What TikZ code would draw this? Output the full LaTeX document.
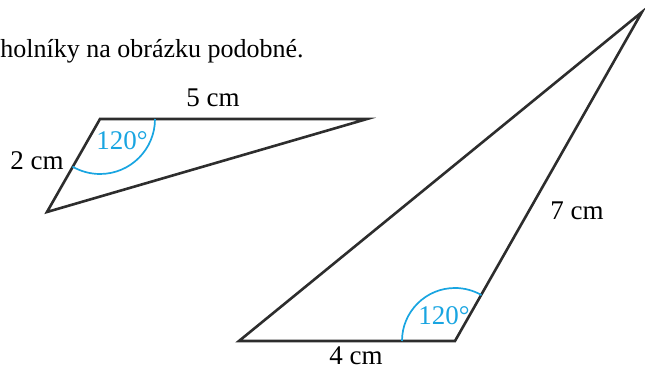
\documentclass[tikz,border=0pt]{standalone}
\usepackage{fontspec}
\setmainfont{Liberation Serif}
\usetikzlibrary{calc}
\definecolor{anglecol}{RGB}{25,165,225}
\definecolor{edgecol}{RGB}{45,45,45}

\begin{document}
\begin{tikzpicture}[x=0.5pt, y=0.5pt,
    side/.style={draw=edgecol, line width=1.3pt, line join=miter},
    lbl/.style={font=\fontsize{13.5}{16}\selectfont, inner sep=0pt, anchor=base},
    ang/.style={draw=anglecol, line width=0.85pt},
    angtxt/.style={lbl, text=anglecol}
]
\useasboundingbox (0,0) rectangle (645,369);

% small triangle
\coordinate (A) at (100,250);
\coordinate (B) at (367,250);
\coordinate (C) at (47,157);
\draw[side] (A) -- (B) -- (C) -- cycle;
\draw[ang] ($(A)+(55,0)$) arc[start angle=0, end angle=-120, radius=55];

% large triangle
\coordinate (P) at (239,28);
\coordinate (Q) at (455,28);
\coordinate (R) at (642,357);
\draw[side] (P) -- (Q) -- (R) -- cycle;
\draw[ang] ($(Q)+(-53,0)$) arc[start angle=180, end angle=60, radius=53];

% labels
\node[lbl, anchor=base west, font=\fontsize{13}{16}\selectfont] (title) at (0,311) {holníky na obrázku podobné.};
\node[lbl] (ab) at (213,262) {5 cm};
\node[lbl] (ac) at (37,199) {2 cm};
\node[angtxt] (angA) at (122,219) {120°};
\node[lbl] (pq) at (356,4) {4 cm};
\node[lbl] (qr) at (577,149) {7 cm};
\node[angtxt] (angQ) at (444,44) {120°};
\end{tikzpicture}
\end{document}
